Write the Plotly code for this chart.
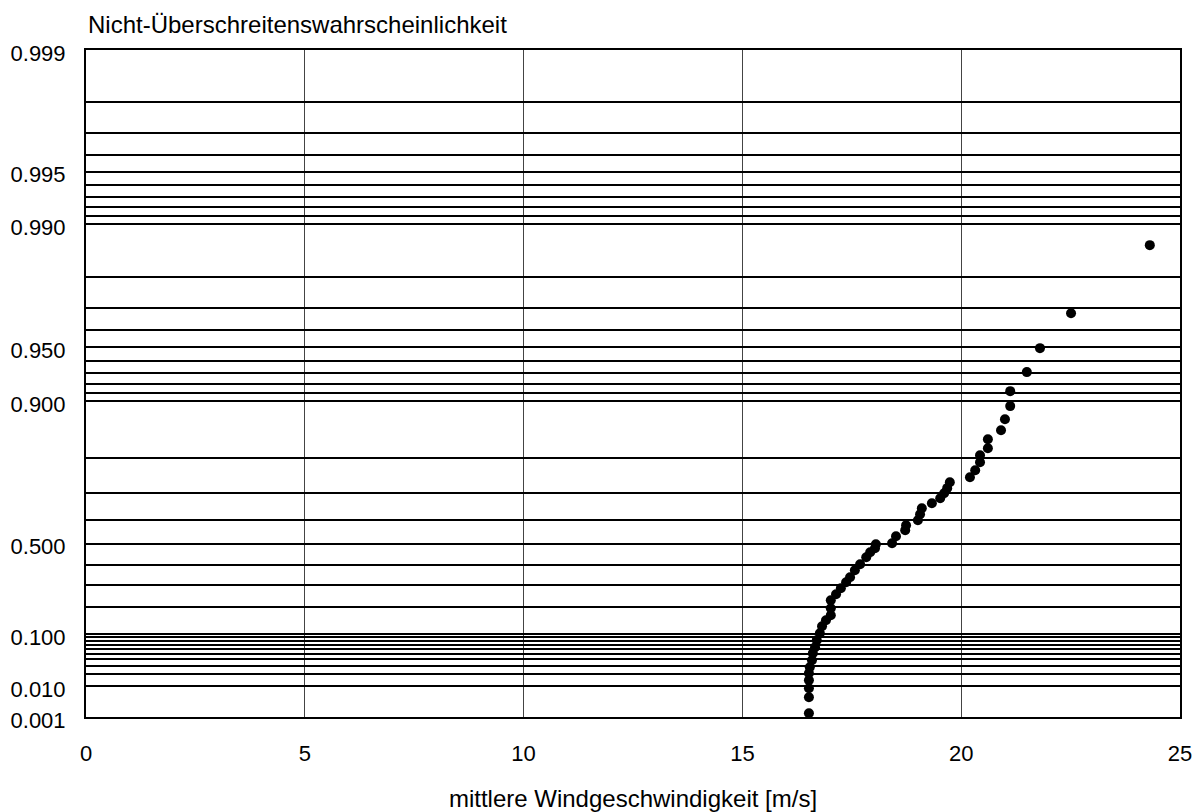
import numpy as np
import plotly.graph_objects as go

# ---- data ----
speed = [16.52, 16.52, 16.52, 16.52, 16.52, 16.54, 16.59, 16.61, 16.66, 16.70,
         16.77, 16.82, 16.91, 17.02, 17.02, 17.02, 17.14, 17.25, 17.37, 17.46,
         17.57, 17.69, 17.83, 17.92, 18.03, 18.05, 18.42, 18.51, 18.72, 18.74,
         19.01, 19.06, 19.10, 19.33, 19.52, 19.61, 19.68, 19.74, 20.20, 20.32,
         20.43, 20.43, 20.61, 20.61, 20.91, 21.00, 21.12, 21.12, 21.50, 21.80,
         22.51, 24.31]
prob = [0.0014, 0.0049, 0.0089, 0.0143, 0.0209, 0.0280, 0.0385, 0.0514, 0.0645, 0.0822,
        0.1026, 0.1256, 0.1472, 0.1664, 0.1951, 0.2299, 0.2573, 0.2854, 0.3141, 0.3384,
        0.3725, 0.4017, 0.4355, 0.4594, 0.4782, 0.4968, 0.5014, 0.5330, 0.5593, 0.5805,
        0.6012, 0.6250, 0.6479, 0.6662, 0.6838, 0.7007, 0.7169, 0.7353, 0.7499, 0.7693,
        0.7899, 0.8066, 0.8221, 0.8404, 0.8570, 0.8751, 0.8939, 0.9121, 0.9310, 0.9493,
        0.9678, 0.9868]

grid_probs = [0.001, 0.01, 0.02, 0.03, 0.04, 0.05, 0.06, 0.07, 0.08, 0.09,
              0.1, 0.2, 0.3, 0.4, 0.5, 0.6, 0.7, 0.8, 0.9,
              0.91, 0.92, 0.93, 0.94, 0.95, 0.96, 0.97, 0.98, 0.99,
              0.991, 0.992, 0.993, 0.994, 0.995, 0.996, 0.997, 0.998, 0.999]
label_probs = [0.001, 0.01, 0.1, 0.5, 0.9, 0.95, 0.99, 0.995, 0.999]
label_texts = ["0.001", "0.010", "0.100", "0.500", "0.900", "0.950", "0.990", "0.995", "0.999"]

x_ticks = [0, 5, 10, 15, 20, 25]

y_title = "Nicht-Überschreitenswahrscheinlichkeit"
x_title = "mittlere Windgeschwindigkeit [m/s]"


def gumbel(p):
    """Reduced Gumbel variate: probability-paper scale."""
    return -np.log(-np.log(np.asarray(p, dtype=float)))


FONT = "Liberation Sans, Arial, Helvetica, sans-serif"
# the page body has an 8px default margin; size the figure to fill the rest
W, H = 1192, 804

lab_map = dict(zip(label_probs, label_texts))
tickvals = list(gumbel(grid_probs))
ticktext = [lab_map.get(p, "") for p in grid_probs]

fig = go.Figure()
fig.add_trace(go.Scatter(
    x=speed, y=gumbel(prob), mode="markers",
    marker=dict(color="black", size=10, line=dict(width=0)),
    showlegend=False, cliponaxis=False,
))

fig.update_layout(
    width=W, height=H,
    margin=dict(l=78, r=20, t=42, b=95, autoexpand=False),
    paper_bgcolor="white", plot_bgcolor="white",
    font=dict(family=FONT, size=22, color="black"),
    title=dict(text=y_title, x=80 / W, xanchor="left", xref="container",
               y=1 - 17 / H, yanchor="middle", yref="container",
               font=dict(family=FONT, size=24, color="black")),
)

fig.update_xaxes(
    range=[0, 25], tickmode="array", tickvals=x_ticks,
    ticktext=[str(v) for v in x_ticks],
    showgrid=True, gridcolor="#444444", gridwidth=1,
    showline=True, linecolor="black", linewidth=2, mirror=True,
    ticks="", ticklabelstandoff=16, zeroline=False, automargin=False,
    tickfont=dict(family=FONT, size=22, color="black"),
    title=dict(text=x_title, font=dict(family=FONT, size=24, color="black"), standoff=26),
)

fig.update_yaxes(
    range=[float(gumbel(0.001)), float(gumbel(0.999))],
    tickmode="array", tickvals=tickvals, ticktext=ticktext,
    showgrid=True, gridcolor="black", gridwidth=2,
    showline=True, linecolor="black", linewidth=2, mirror=True,
    ticks="", ticklabelstandoff=14, ticklabelshift=3, zeroline=False, automargin=False,
    tickfont=dict(family=FONT, size=22, color="black"),
)

fig.write_html("out.html")
